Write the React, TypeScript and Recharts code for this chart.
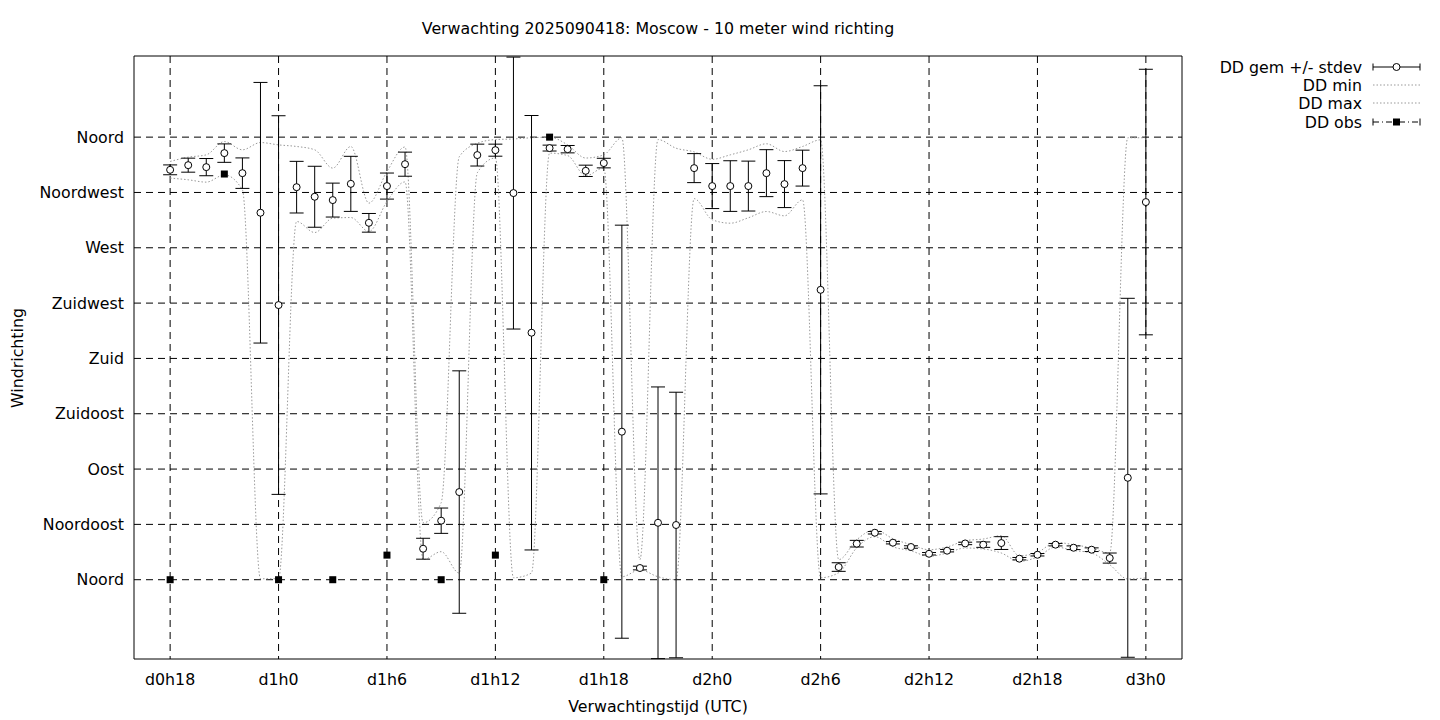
import {
  CartesianGrid,
  ComposedChart,
  ErrorBar,
  Legend,
  Line,
  Scatter,
  XAxis,
  YAxis,
} from "recharts";

// forecast hours, counted from d0h0
const hours = [
  18, 19, 20, 21, 22, 23, 24, 25, 26, 27, 28, 29, 30, 31, 32, 33, 34, 35, 36,
  37, 38, 39, 40, 41, 42, 43, 44, 45, 46, 47, 48, 49, 50, 51, 52, 53, 54, 55,
  56, 57, 58, 59, 60, 61, 62, 63, 64, 65, 66, 67, 68, 69, 70, 71, 72,
];

// wind direction in degrees
const ddMean = [
  333.4, 337.2, 335.6, 347.0, 330.7, 298.5, 223.4, 319.3, 311.5, 308.8, 322.0,
  290.3, 320.2, 338.0, 25.2, 48.0, 71.3, 345.4, 349.4, 314.5, 200.9, 351.1,
  350.2, 332.6, 338.9, 120.4, 9.5, 46.3, 44.5, 334.8, 320.2, 320.2, 320.2,
  330.7, 321.8, 334.8, 235.8, 10.3, 29.3, 38.2, 30.1, 26.6, 21.1, 23.6, 29.5,
  28.5, 29.8, 17.1, 20.3, 28.5, 26.0, 24.4, 17.6, 82.9, 307.2,
];
const ddStdev = [
  4.0, 5.7, 7.0, 7.5, 12.4, 106, 154, 21, 24.8, 13.8, 22.4, 7.6, 10.6, 9.8,
  8.5, 10.3, 98.6, 8.9, 4.9, 110.6, 176.7, 2.4, 3.0, 4.6, 3.9, 168, 1.5, 110.5,
  108, 11.8, 18.3, 20.6, 20.3, 19.1, 19.1, 14.6, 166, 3.5, 2.7, 1.0, 1.0, 1.0,
  1.0, 1.0, 1.0, 2.2, 5.2, 1.0, 1.0, 1.0, 1.5, 1.5, 4.1, 146, 108,
];
const ddMin = [
  326.7, 325.3, 323.4, 329.3, 317.1, 0.8, 0.8, 291.4, 282.4, 294.1, 294.6,
  283.2, 307.6, 323.6, 16.3, 22.8, 5.4, 331, 343, 1.6, 5.4, 347, 345, 328.5,
  335, 2.4, 8, 2.4, 0, 310, 292.8, 290, 294.4, 299.5, 296, 309, 1.6, 5.7, 26,
  35, 26.8, 23.5, 19, 21.7, 25.8, 25, 21.7, 14.9, 18.5, 26.6, 23.8, 21.7,
  12.2, 0.6, 1.4,
];
const ddMax = [
  340.2, 343.7, 345.6, 356.4, 349.7, 355.6, 353.7, 352.4, 349.7, 334.8, 352.4,
  306.3, 332, 352, 46.3, 62.6, 344, 355, 358, 358.5, 359.5, 360, 353.7, 343,
  345.6, 359.5, 16.3, 358, 351, 348, 342, 345.6, 349.7, 354.6, 348.3, 352.4,
  357.8, 16.3, 32.5, 40.7, 33.4, 28.5, 24.4, 26.6, 31.7, 33.1, 35.8, 19.5,
  22.2, 30.3, 28.5, 25.8, 21.7, 359.5, 359.5,
];

const obsHours = [18, 21, 24, 27, 30, 33, 36, 39, 42];
const ddObs = [0, 330, 0, 0, 20, 0, 20, 360, 0];

const xTicks = [18, 24, 30, 36, 42, 48, 54, 60, 66, 72];
const xTickLabels = [
  "d0h18", "d1h0", "d1h6", "d1h12", "d1h18", "d2h0", "d2h6", "d2h12", "d2h18", "d3h0",
];
const yTicks = [0, 45, 90, 135, 180, 225, 270, 315, 360];
const yTickLabels = [
  "Noord", "Noordoost", "Oost", "Zuidoost", "Zuid", "Zuidwest", "West", "Noordwest", "Noord",
];

const xDomain: [number, number] = [16, 74];
const yDomain: [number, number] = [-64.5, 426];

const rows = hours.map((h, i) => ({
  hour: h,
  mean: ddMean[i],
  sd: ddStdev[i],
  min: ddMin[i],
  max: ddMax[i],
}));
const obsRows = obsHours.map((h, i) => ({ hour: h, obs: ddObs[i] }));

const FONT = "'DejaVu Sans', sans-serif";
const FS = 15.8;
const GREY = "#999999";

function OpenCircle(props: any) {
  const { cx, cy } = props;
  return <circle cx={cx} cy={cy} r={3.5} fill="#fff" stroke="#000" strokeWidth={1} />;
}

function FilledSquare(props: any) {
  const { cx, cy } = props;
  return <rect x={cx - 3.5} y={cy - 3.5} width={7} height={7} fill="#000" />;
}

const legendItems = ["DD gem +/- stdev", "DD min", "DD max", "DD obs"];

function renderLegend() {
  const rowY = [11, 29, 47, 66];
  const x1 = 173;
  const x2 = 220;
  const xm = (x1 + x2) / 2;
  return (
    <svg width={240} height={80} style={{ display: "block" }}>
      {legendItems.map((name, i) => (
        <text
          key={name}
          x={162}
          y={rowY[i] + 5.5}
          textAnchor="end"
          fontFamily={FONT}
          fontSize={FS}
          fill="#000"
        >
          {name}
        </text>
      ))}
      <line x1={x1} x2={x2} y1={rowY[0]} y2={rowY[0]} stroke="#000" />
      <line x1={x1} x2={x1} y1={rowY[0] - 3.5} y2={rowY[0] + 3.5} stroke="#000" />
      <line x1={x2} x2={x2} y1={rowY[0] - 3.5} y2={rowY[0] + 3.5} stroke="#000" />
      <circle cx={xm} cy={rowY[0]} r={3.5} fill="#fff" stroke="#000" />
      <line x1={x1} x2={x2} y1={rowY[1]} y2={rowY[1]} stroke={GREY} strokeDasharray="1.5 2" />
      <line x1={x1} x2={x2} y1={rowY[2]} y2={rowY[2]} stroke={GREY} strokeDasharray="1.5 2" />
      <line x1={x1} x2={x2} y1={rowY[3]} y2={rowY[3]} stroke="#000" strokeDasharray="6 3 1 3" />
      <line x1={x1} x2={x1} y1={rowY[3] - 3.5} y2={rowY[3] + 3.5} stroke="#000" />
      <line x1={x2} x2={x2} y1={rowY[3] - 3.5} y2={rowY[3] + 3.5} stroke="#000" />
      <rect x={xm - 3.5} y={rowY[3] - 3.5} width={7} height={7} fill="#000" />
    </svg>
  );
}

export default function App() {
  return (
    <div style={{ position: "absolute", left: 0, top: 0, width: 1440, height: 720, background: "#fff" }}>
      <ComposedChart
        width={1440}
        height={720}
        data={rows}
        margin={{ top: 55, right: 257, bottom: 0, left: 0 }}
        style={{ fontFamily: FONT }}
      >
        <CartesianGrid stroke="#000" strokeDasharray="7 5" syncWithTicks />
        <XAxis
          dataKey="hour"
          type="number"
          domain={xDomain}
          allowDataOverflow
          ticks={xTicks}
          tickFormatter={(v: number) => xTickLabels[xTicks.indexOf(v)]}
          height={61}
          axisLine={{ stroke: "#000" }}
          tickLine={false}
          tickMargin={9}
          tick={{ fill: "#000", fontSize: FS, fontFamily: FONT }}
          label={{
            value: "Verwachtingstijd (UTC)",
            position: "insideBottom",
            offset: 8,
            fill: "#000",
            fontSize: FS,
            fontFamily: FONT,
          }}
        />
        <XAxis
          xAxisId="top"
          orientation="top"
          dataKey="hour"
          type="number"
          domain={xDomain}
          allowDataOverflow
          height={1}
          tick={false}
          tickLine={false}
          axisLine={{ stroke: "#000" }}
        />
        <YAxis
          type="number"
          domain={yDomain}
          allowDataOverflow
          ticks={yTicks}
          interval={0}
          tickFormatter={(v: number) => yTickLabels[yTicks.indexOf(v)]}
          width={134}
          axisLine={{ stroke: "#000" }}
          tickLine={false}
          tickMargin={4}
          tick={{ fill: "#000", fontSize: FS, fontFamily: FONT }}
        />
        <YAxis
          yAxisId="right"
          orientation="right"
          type="number"
          domain={yDomain}
          allowDataOverflow
          width={1}
          tick={false}
          tickLine={false}
          axisLine={{ stroke: "#000" }}
        />
        <Line
          dataKey="min"
          type="monotone"
          stroke={GREY}
          strokeWidth={1}
          strokeDasharray="1.5 2"
          dot={false}
          isAnimationActive={false}
        />
        <Line
          dataKey="max"
          type="monotone"
          stroke={GREY}
          strokeWidth={1}
          strokeDasharray="1.5 2"
          dot={false}
          isAnimationActive={false}
        />
        <Scatter dataKey="mean" shape={OpenCircle} isAnimationActive={false}>
          <ErrorBar dataKey="sd" direction="y" width={7} stroke="#000" strokeWidth={1} />
        </Scatter>
        <Scatter data={obsRows} dataKey="obs" shape={FilledSquare} isAnimationActive={false} />
        <Legend
          layout="horizontal"
          verticalAlign="middle"
          align="center"
          content={renderLegend}
          wrapperStyle={{ position: "absolute", left: 1200, top: 56, width: 240 }}
        />
      </ComposedChart>
      <svg
        width={1440}
        height={720}
        style={{ position: "absolute", left: 0, top: 0, pointerEvents: "none" }}
      >
        <text x={658} y={34} textAnchor="middle" fontFamily={FONT} fontSize={FS} fill="#000">
          Verwachting 2025090418: Moscow - 10 meter wind richting
        </text>
        <text
          x={0}
          y={0}
          transform="translate(23,358) rotate(-90)"
          textAnchor="middle"
          fontFamily={FONT}
          fontSize={FS}
          fill="#000"
        >
          Windrichting
        </text>
      </svg>
    </div>
  );
}
